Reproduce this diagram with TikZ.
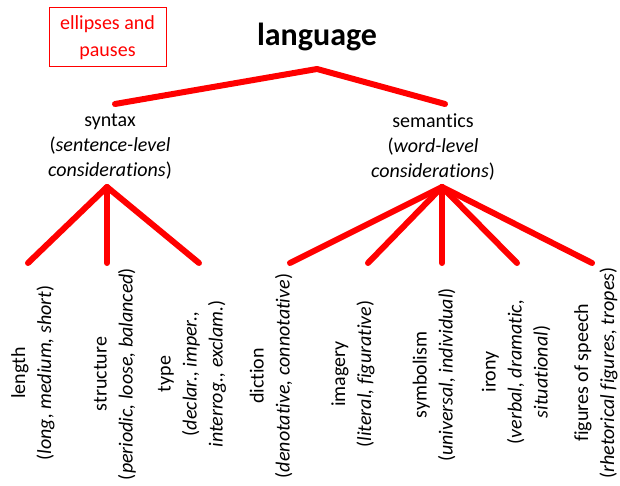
\documentclass[tikz,border=0pt]{standalone}
\usepackage{fontspec}
\setmainfont[Ligatures=NoCommon]{Carlito}
\definecolor{branchred}{RGB}{255,0,0}
\begin{document}
\begin{tikzpicture}[x=1pt, y=-1pt,
	label/.style={align=center, inner sep=0pt, font=\fontsize{20}{25}\selectfont},
	leaf/.style={align=center, inner sep=0pt, rotate=90, font=\fontsize{20}{26}\selectfont},
	branch/.style={line width=6pt, branchred, line cap=round, line join=round}]
		\useasboundingbox (0,0) rectangle (620,486);
		\node[draw=branchred, line width=1pt, text=branchred, align=center, minimum width=117pt, minimum height=59pt, inner sep=0pt, font=\fontsize{20}{27}\selectfont] (ellipses) at (107.5,37.5) {ellipses and\\pauses};
		\node[font=\fontsize{32}{36}\selectfont\bfseries] (language) at (317,37) {language};
		\node[label] (syntax) at (110,147) {syntax\\(\textit{sentence-level}\\\textit{considerations})};
		\node[label] (semantics) at (433,147) {semantics\\(\textit{word-level}\\\textit{considerations})};
		\node[leaf] (length) at (33,373) {length\\(\textit{long, medium, short})};
		\node[leaf] (structure) at (115,374) {structure\\(\textit{periodic, loose, balanced})};
		\node[leaf] (type) at (192,374) {type\\(\textit{declar., imper.,}\\\textit{interrog., exclam.})};
		\node[leaf] (diction) at (271,376) {diction\\(\textit{denotative, connotative})};
		\node[leaf] (imagery) at (353,374) {imagery\\(\textit{literal, figurative})};
		\node[leaf] (symbolism) at (434,375) {symbolism\\(\textit{universal, individual})};
		\node[leaf] (irony) at (516,372) {irony\\(\textit{verbal, dramatic,}\\\textit{situational})};
		\node[leaf] (figures) at (596,373) {figures of speech\\(\textit{rhetorical figures, tropes})};
		% Branch points
		\coordinate (langroot) at (317,69);
		\coordinate (syntax-top) at (115,104);
		\coordinate (semantics-top) at (445,104);
		\coordinate (synroot) at (107,187);
		\coordinate (semroot) at (442,187);
		\coordinate (length-top) at (28,263);
		\coordinate (structure-top) at (107,263);
		\coordinate (type-top) at (199,263);
		\coordinate (diction-top) at (290,263);
		\coordinate (imagery-top) at (368,263);
		\coordinate (symbolism-top) at (442,263);
		\coordinate (irony-top) at (517,263);
		\coordinate (figures-top) at (592,263);
		% Branches
		\draw[branch] (syntax-top) -- (langroot) -- (semantics-top);
		\foreach \leafname in {length, structure, type}
			\draw[branch] (synroot) -- (\leafname-top);
		\foreach \leafname in {diction, imagery, symbolism, irony, figures}
			\draw[branch] (semroot) -- (\leafname-top);
	\end{tikzpicture}
\end{document}
